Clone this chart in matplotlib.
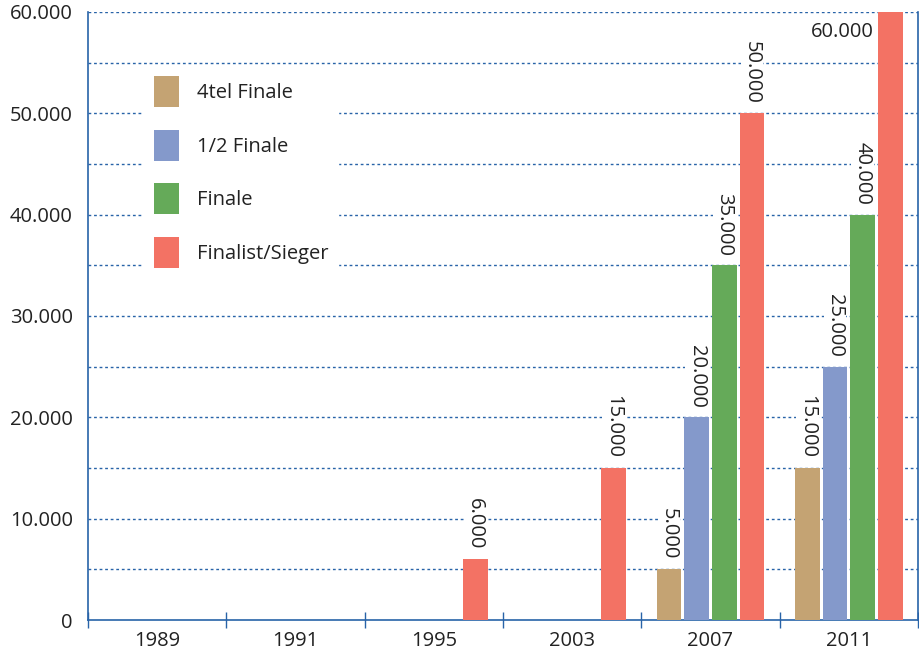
import matplotlib
matplotlib.use("Agg")
import matplotlib.pyplot as plt
import numpy as np

years = ["1989", "1991", "1995", "2003", "2007", "2011"]
series_names = ["4tel Finale", "1/2 Finale", "Finale", "Finalist/Sieger"]
viertel = [0, 0, 0, 0, 5000, 15000]
halb = [0, 0, 0, 0, 20000, 25000]
finale = [0, 0, 0, 0, 35000, 40000]
sieger = [0, 0, 6000, 15000, 50000, 60000]
colors = ["#C4A373", "#8499CB", "#65AA59", "#F37264"]
yticks = [0, 10000, 20000, 30000, 40000, 50000, 60000]
ytick_labels = ["0", "10.000", "20.000", "30.000", "40.000", "50.000", "60.000"]

plt.rcParams['font.family'] = ['Open Sans', 'DejaVu Sans']
W, H = 920, 654
fig = plt.figure(figsize=(W / 100, H / 100), dpi=100)
ax = fig.add_axes([88 / W, (H - 620) / H, (918 - 88) / W, (620 - 12) / H])

blue = "#2863A8"
txt = "#222222"
fs = 14.5
x = np.arange(len(years))
slot = 0.2
bw = 0.18
data = [viertel, halb, finale, sieger]
for i, (vals, c, name) in enumerate(zip(data, colors, series_names)):
    pos = x + (i - 1.5) * slot
    ax.bar(pos, vals, width=bw, color=c, label=name, zorder=3)
    for p, v in zip(pos, vals):
        if v <= 0:
            continue
        lab = f"{v:,}".replace(",", ".")
        if v >= 60000:
            ax.text(p - 0.12, 58000, lab, ha="right", va="center", fontsize=fs,
                    color=txt, zorder=4)
        else:
            ax.annotate(lab, (p, v), xytext=(0, 7), textcoords="offset points",
                        ha="center", va="bottom", rotation=270, fontsize=fs,
                        color=txt, zorder=4,
                        bbox=dict(facecolor="white", edgecolor="none", pad=1))

ax.set_xlim(-0.5, len(years) - 0.5)
ax.set_ylim(0, 60000)
for g in range(5000, 60001, 5000):
    ax.axhline(g, color=blue, linestyle=(0, (2, 2)), linewidth=1.0, zorder=1)

ax.set_yticks(yticks)
ax.set_yticklabels(ytick_labels, fontsize=fs, color=txt)
ax.tick_params(axis="y", length=0, pad=11)

ax.set_xticks(np.arange(-0.5, len(years), 1.0))
ax.set_xticklabels([])
ax.tick_params(axis="x", which="major", direction="inout", length=12, color=blue, width=1)
ax.set_xticks(x, minor=True)
ax.set_xticklabels(years, minor=True, fontsize=fs, color=txt)
ax.tick_params(axis="x", which="minor", length=0, pad=8)

for s in ["left", "bottom", "right"]:
    ax.spines[s].set_color(blue)
    ax.spines[s].set_linewidth(1.2)
ax.spines["top"].set_visible(False)

leg = ax.legend(loc="upper left", bbox_to_anchor=(0.067, 0.911), frameon=True,
                fontsize=fs, handlelength=1.24, handleheight=1.99, labelspacing=1.12,
                borderpad=0.5, handletextpad=0.9, fancybox=False, edgecolor="white",
                framealpha=1.0, borderaxespad=0)
for t in leg.get_texts():
    t.set_color(txt)
leg.set_zorder(5)

fig.savefig("out.png", dpi=100)
